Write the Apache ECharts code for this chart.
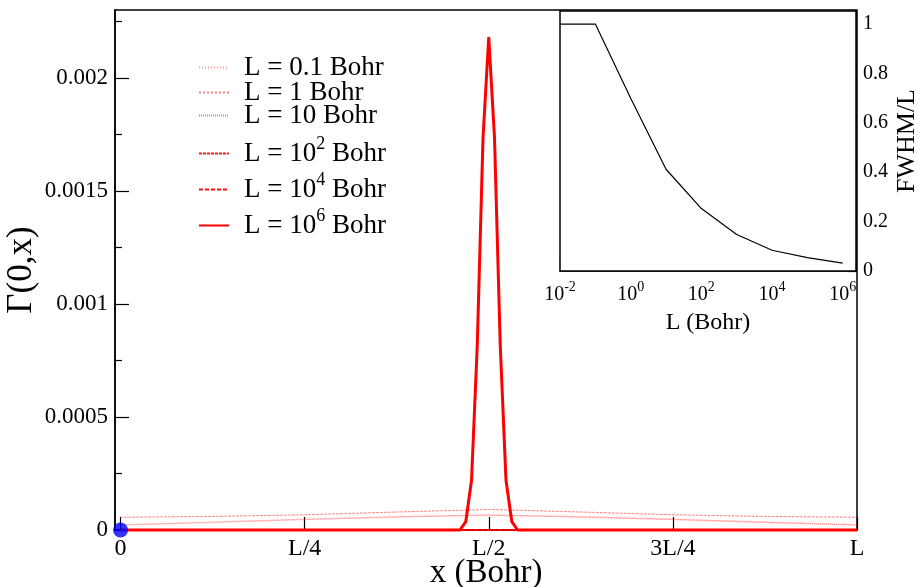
<!DOCTYPE html>
<html><head><meta charset="utf-8">
<script src="https://cdn.jsdelivr.net/npm/echarts@6/dist/echarts.min.js"></script>
<style>html,body{margin:0;padding:0;background:#fff}#c{width:919px;height:587px}</style>
</head><body><div id="c"></div>
<script>
// ---- main plot data ----
const xTickValues = [0, 0.25, 0.5, 0.75, 1];
const xTickLabels = ['0', 'L/4', 'L/2', '3L/4', 'L'];
const yTickValues = [0, 0.0005, 0.001, 0.0015, 0.002];
const yTickLabels = ['0', '0.0005', '0.001', '0.0015', '0.002'];
const yMinorTicks = [0.00025, 0.00075, 0.00125, 0.00175, 0.00225];

const seriesNames = ['L = 0.1 Bohr', 'L = 1 Bohr', 'L = 10 Bohr', 'L = 10^2 Bohr', 'L = 10^4 Bohr', 'L = 10^6 Bohr'];

const xBroad = [0, 0.125, 0.25, 0.375, 0.5, 0.625, 0.75, 0.875, 1];
const gammaL01 = [0.0000559, 0.0000595, 0.0000668, 0.0000790, 0.0000903, 0.0000790, 0.0000668, 0.0000595, 0.0000559];
const gammaL1 = [0.0000566, 0.0000602, 0.0000676, 0.0000798, 0.0000912, 0.0000798, 0.0000676, 0.0000602, 0.0000566];
const gammaL10 = [0.0000225, 0.0000340, 0.0000471, 0.0000580, 0.0000660, 0.0000580, 0.0000471, 0.0000340, 0.0000225];
const gammaL1e2 = [0, 0, 0, 0, 0, 0, 0, 0, 0];
const gammaL1e4 = [0, 0, 0, 0, 0, 0, 0, 0, 0];
const xPeak = [0, 0.4609, 0.4688, 0.4766, 0.4844, 0.4922, 0.5, 0.5078, 0.5156, 0.5234, 0.5313, 0.5391, 1];
const gammaL1e6 = [0, 0, 0.0000366, 0.00022, 0.000817, 0.001735, 0.00218, 0.001735, 0.000817, 0.00022, 0.0000366, 0, 0];
const originPoint = [0, 0];

// ---- inset data ----
const insetL = [0.01, 0.1, 1, 10, 100, 1000, 1e4, 1e5, 1e6];
const fwhmRatio = [1.0, 1.0, 0.70, 0.412, 0.253, 0.148, 0.084, 0.054, 0.032];
const insetXTickExponents = [-2, 0, 2, 4, 6];
const insetYTicks = [0, 0.1, 0.2, 0.3, 0.4, 0.5, 0.6, 0.7, 0.8, 0.9, 1];
const insetYLabelValues = [0, 0.2, 0.4, 0.6, 0.8, 1];
const insetYLabels = ['0', '0.2', '0.4', '0.6', '0.8', '1'];

const FONT = 'Liberation Serif';
const pair = (xs, ys) => xs.map((x, i) => [x, ys[i]]);

function richName(name) {
  const m = name.match(/^(.*?)\^(\S+)(.*)$/);
  if (!m) return '{g| }{n|' + name + '}';
  return '{g| }{m|' + m[1] + '}{s|' + m[2] + '}{m|' + m[3] + '}';
}

const legendTops = [46, 71, 94, 126, 162, 198];
const legendRich = {
  g: { width: 10 },
  n: { fontFamily: FONT, fontSize: 27, lineHeight: 27, color: '#000', verticalAlign: 'bottom', padding: [8, 0, 0, 0] },
  m: { fontFamily: FONT, fontSize: 27, lineHeight: 27, color: '#000', verticalAlign: 'bottom', padding: [14, 0, 0, 0] },
  s: { fontFamily: FONT, fontSize: 18, lineHeight: 17, color: '#000', verticalAlign: 'bottom', padding: [0, 0, 14, 0] }
};

const lineStyles = [
  { color: 'rgba(255,0,0,0.40)', width: 1, type: [1, 2] },
  { color: 'rgba(255,0,0,0.50)', width: 1, type: [2, 2] },
  { color: 'rgba(255,0,0,0.55)', width: 1.5, type: [1, 1] },
  { color: 'rgba(255,0,0,0.90)', width: 2, type: [3, 1] },
  { color: 'rgba(255,0,0,0.95)', width: 2, type: [4, 2] },
  { color: '#ff0000', width: 3, type: 'solid' }
];
const seriesData = [
  pair(xBroad, gammaL01), pair(xBroad, gammaL1), pair(xBroad, gammaL10),
  pair(xBroad, gammaL1e2), pair(xBroad, gammaL1e4), pair(xPeak, gammaL1e6)
];

const chart = echarts.init(document.getElementById('c'));
const axisText = { fontFamily: FONT, color: '#000' };

chart.setOption({
  animation: false,
  backgroundColor: '#fff',
  legend: seriesNames.map((nm, i) => ({
    data: [nm], left: 198, top: legendTops[i], orient: 'vertical',
    itemWidth: 30, itemHeight: 14, padding: 0, itemGap: 0,
    selectedMode: false,
    itemStyle: { opacity: 0 },
    formatter: richName,
    textStyle: { fontFamily: FONT, fontSize: 27, color: '#000', rich: legendRich }
  })),
  grid: [
    { left: 115, top: 10, width: 742, height: 520, show: true, borderColor: '#000', borderWidth: 1.5, backgroundColor: 'transparent', containLabel: false, outerBoundsMode: 'none' },
    { left: 560, top: 11, width: 296, height: 260, show: true, borderColor: '#000', borderWidth: 1.5, backgroundColor: '#fff', z: 5, containLabel: false, outerBoundsMode: 'none' }
  ],
  xAxis: [
    {
      gridIndex: 0, type: 'value', min: -0.0075, max: 1,
      axisLine: { onZero: false, lineStyle: { color: '#000', width: 1.5 } },
      axisTick: { inside: true, length: 13, customValues: xTickValues, lineStyle: { color: '#000', width: 1.2 } },
      axisLabel: { customValues: xTickValues, formatter: v => xTickLabels[xTickValues.indexOf(v)], fontSize: 24, margin: 7, ...axisText },
      splitLine: { show: false },
      name: 'x (Bohr)', nameLocation: 'middle', nameGap: 27, nameMoveOverlap: false,
      nameTextStyle: { fontSize: 33, ...axisText }
    },
    {
      gridIndex: 1, type: 'value', min: -2, max: 6.375,
      axisLine: { onZero: false, lineStyle: { color: '#000', width: 1.5 } },
      axisTick: { inside: true, length: 14, customValues: insetXTickExponents, lineStyle: { color: '#000', width: 1.2 } },
      axisLabel: {
        customValues: insetXTickExponents, margin: 12,
        formatter: v => '{n|10}{s|' + v + '}',
        rich: {
          n: { fontFamily: FONT, fontSize: 20, lineHeight: 22, color: '#000', verticalAlign: 'bottom' },
          s: { fontFamily: FONT, fontSize: 14, lineHeight: 14, color: '#000', verticalAlign: 'bottom', padding: [0, 0, 11, 0] }
        }
      },
      splitLine: { show: false },
      name: 'L (Bohr)', nameLocation: 'middle', nameGap: 40,
      nameTextStyle: { fontSize: 24, ...axisText }
    }
  ],
  yAxis: [
    {
      gridIndex: 0, type: 'value', min: 0, max: 0.0023, position: 'left',
      axisLine: { onZero: false, lineStyle: { color: '#000', width: 1.5 } },
      axisTick: { inside: true, length: 14, customValues: yTickValues, lineStyle: { color: '#000', width: 1.2 } },
      axisLabel: { customValues: yTickValues, formatter: v => yTickLabels[yTickValues.indexOf(v)], fontSize: 23, margin: 7, ...axisText },
      splitLine: { show: false },
      name: 'Γ(0,x)', nameLocation: 'middle', nameGap: 76, nameRotate: 90, nameMoveOverlap: false,
      nameTextStyle: { fontSize: 35, ...axisText }
    },
    {
      gridIndex: 0, type: 'value', min: 0, max: 0.0023, position: 'left', offset: 0,
      axisLine: { show: false, onZero: false },
      axisTick: { inside: true, length: 7, customValues: yMinorTicks, lineStyle: { color: '#000', width: 1.2 } },
      axisLabel: { show: false },
      splitLine: { show: false }
    },
    {
      gridIndex: 1, type: 'value', min: 0, max: 1.053, position: 'right',
      axisLine: { onZero: false, lineStyle: { color: '#000', width: 1.5 } },
      axisTick: { inside: true, length: 7, customValues: insetYTicks, lineStyle: { color: '#000', width: 1.2 } },
      axisLabel: { customValues: insetYLabelValues, formatter: v => insetYLabels[insetYLabelValues.indexOf(v)], fontSize: 20, margin: 7, ...axisText },
      splitLine: { show: false },
      name: 'FWHM/L', nameLocation: 'middle', nameGap: 38, nameRotate: 90,
      nameTextStyle: { fontSize: 26, ...axisText }
    }
  ],
  series: seriesNames.map((nm, i) => ({
    name: nm, type: 'line', xAxisIndex: 0, yAxisIndex: 0,
    data: seriesData[i], showSymbol: false, symbol: 'none',
    lineStyle: lineStyles[i], itemStyle: { color: lineStyles[i].color },
    z: 2 + i, clip: false
  })).concat([
    {
      type: 'scatter', xAxisIndex: 0, yAxisIndex: 0, data: [originPoint],
      symbolSize: 15, itemStyle: { color: '#0000ff' }, z: 20, clip: false
    },
    {
      type: 'line', xAxisIndex: 1, yAxisIndex: 2,
      data: insetL.map((L, i) => [Math.log10(L), fwhmRatio[i]]),
      showSymbol: false, symbol: 'none',
      lineStyle: { color: '#000', width: 1.2 }, z: 10
    }
  ])
});
</script>
</body></html>
